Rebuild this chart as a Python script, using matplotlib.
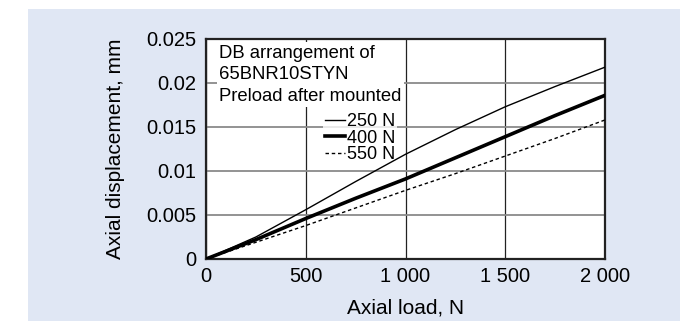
import matplotlib
matplotlib.use("Agg")
import matplotlib.pyplot as plt
from matplotlib.patches import Rectangle

plt.rcParams['font.family'] = ['Liberation Sans', 'DejaVu Sans']

# Axial load (N) and axial displacement (mm)
carga = [0, 250, 500, 750, 1000, 1250, 1500, 1750, 2000]
desp_250 = [0, 0.0025, 0.0056, 0.0088, 0.0119, 0.0147, 0.0173, 0.0196, 0.0218]
desp_400 = [0, 0.0022, 0.0046, 0.0069, 0.0091, 0.0115, 0.0139, 0.0163, 0.0186]
desp_550 = [0, 0.0019, 0.0038, 0.0058, 0.0078, 0.0097, 0.0117, 0.0137, 0.0158]

etiquetas = ['250 N', '400 N', '550 N']
xticks = [0, 500, 1000, 1500, 2000]
xtick_labels = ['0', '500', '1 000', '1 500', '2 000']
yticks = [0, 0.005, 0.01, 0.015, 0.02, 0.025]
ytick_labels = ['0', '0.005', '0.01', '0.015', '0.02', '0.025']
titulo_caja = 'DB arrangement of\n65BNR10STYN\nPreload after mounted'

fig = plt.figure(figsize=(6.8, 3.21), dpi=100)
fig.patch.set_facecolor('white')
# fondo azul claro del panel
fig.patches.append(Rectangle((28 / 680, 0), 1, (321 - 9) / 321,
                             transform=fig.transFigure, facecolor='#E0E7F4',
                             edgecolor='none', zorder=-10))

ax = fig.add_axes([206 / 680, 62 / 321, 399 / 680, 220 / 321])
ax.set_zorder(1)
ax.set_facecolor('white')

ax.plot(carga, desp_250, color='black', lw=1.0, label=etiquetas[0], zorder=3)
ax.plot(carga, desp_400, color='black', lw=2.6, label=etiquetas[1], zorder=3)
ax.plot(carga, desp_550, color='black', lw=1.0, ls=(0, (2.5, 2)), label=etiquetas[2], zorder=3)

ax.set_xlim(0, 2000)
ax.set_ylim(0, 0.025)
ax.set_xticks(xticks)
ax.set_xticklabels(xtick_labels)
ax.set_yticks(yticks)
ax.set_yticklabels(ytick_labels)
ax.tick_params(axis='both', length=0, labelsize=14.5)
ax.tick_params(axis='x', pad=6)
ax.tick_params(axis='y', pad=7)

ax.set_axisbelow(True)
ax.grid(axis='y', color='#8a8a8a', lw=1.3)
ax.grid(axis='x', color='#222222', lw=0.9)
for s in ax.spines.values():
    s.set_linewidth(1.6)
    s.set_color('#222222')

ax.set_xlabel('Axial load, N', fontsize=15, labelpad=9)
ax.set_ylabel('Axial displacement, mm', fontsize=15, labelpad=15)

# caja de texto con fondo blanco
ax.text(0.033, 0.975, titulo_caja, transform=ax.transAxes, fontsize=13.3,
        va='top', ha='left', linespacing=1.36, zorder=1,
        bbox=dict(boxstyle='square,pad=0.12', facecolor='white', edgecolor='none'))

leg = ax.legend(loc='upper right', bbox_to_anchor=(0.478, 0.67), fontsize=13,
                handlelength=1.1, handletextpad=0.1, labelspacing=-0.04,
                borderpad=0.1, borderaxespad=0, frameon=True, fancybox=False)
leg.get_frame().set_facecolor('white')
leg.get_frame().set_edgecolor('none')
leg.set_zorder(1)

plt.savefig('out.png', dpi=100)
